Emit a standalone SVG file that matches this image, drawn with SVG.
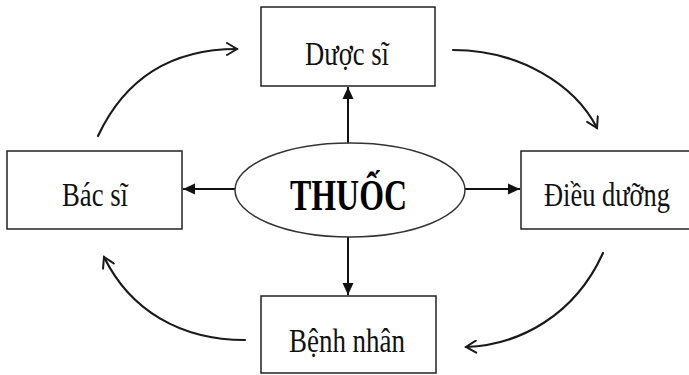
<svg xmlns="http://www.w3.org/2000/svg" width="689" height="375" viewBox="0 0 689 375">
  <style>
    .box { fill: #ffffff; stroke: #222222; stroke-width: 1.5; }
    .lbl { font-family: "Liberation Serif", "Times New Roman", serif; font-size: 33px; fill: #111111; text-anchor: middle; }
    .hub { font-family: "Liberation Serif", "Times New Roman", serif; font-size: 44px; font-weight: bold; fill: #000000; text-anchor: middle; }
    .line { fill: none; stroke: #111111; stroke-width: 2; }
    .curve { fill: none; stroke: #1a1a1a; stroke-width: 2.2; stroke-linecap: round; }
  </style>
  <defs>
    <marker id="solid" viewBox="0 0 12 12" refX="12" refY="6" markerWidth="12" markerHeight="12" markerUnits="userSpaceOnUse" orient="auto">
      <path d="M0,0.5 L12,6 L0,11.5 z" fill="#111111"/>
    </marker>
    <marker id="open" viewBox="0 0 14 14" refX="12" refY="7" markerWidth="14" markerHeight="14" markerUnits="userSpaceOnUse" orient="auto">
      <path d="M2,1 L12,7 L2,13" fill="none" stroke="#1a1a1a" stroke-width="2" stroke-linecap="round"/>
    </marker>
  </defs>

  <g id="connectors">
    <line class="line" x1="348" y1="143" x2="348" y2="87" marker-end="url(#solid)"/>
    <line class="line" x1="235" y1="189" x2="183" y2="189" marker-end="url(#solid)"/>
    <line class="line" x1="465" y1="189" x2="520" y2="189" marker-end="url(#solid)"/>
    <line class="line" x1="348" y1="237" x2="348" y2="295" marker-end="url(#solid)"/>
    <path class="curve" d="M98,136 C128,72 178,49 237,49" marker-end="url(#open)"/>
    <path class="curve" d="M453,50 C520,50 575,85 597,128" marker-end="url(#open)"/>
    <path class="curve" d="M603,253 C575,315 520,345 466,347" marker-end="url(#open)"/>
    <path class="curve" d="M245,340 C180,340 130,310 104,257" marker-end="url(#open)"/>
  </g>

  <g id="thuoc">
    <ellipse cx="350" cy="190" rx="115" ry="47" fill="#ffffff" stroke="#333333" stroke-width="1.5"/>
    <text class="hub" x="348.5" y="210" textLength="117" lengthAdjust="spacingAndGlyphs">THUỐC</text>
  </g>

  <g id="duoc-si">
    <rect class="box" x="261" y="7" width="174" height="79"/>
    <text class="lbl" x="347" y="65" textLength="84" lengthAdjust="spacingAndGlyphs">Dược sĩ</text>
  </g>

  <g id="bac-si">
    <rect class="box" x="7" y="151" width="175" height="78"/>
    <text class="lbl" x="95" y="206" textLength="66" lengthAdjust="spacingAndGlyphs">Bác sĩ</text>
  </g>

  <g id="dieu-duong">
    <rect class="box" x="521" y="151" width="175" height="78"/>
    <text class="lbl" x="607" y="206" textLength="126" lengthAdjust="spacingAndGlyphs">Điều dưỡng</text>
  </g>

  <g id="benh-nhan">
    <rect class="box" x="261" y="296" width="175" height="77"/>
    <text class="lbl" x="347" y="352" textLength="116" lengthAdjust="spacingAndGlyphs">Bệnh nhân</text>
  </g>
</svg>
